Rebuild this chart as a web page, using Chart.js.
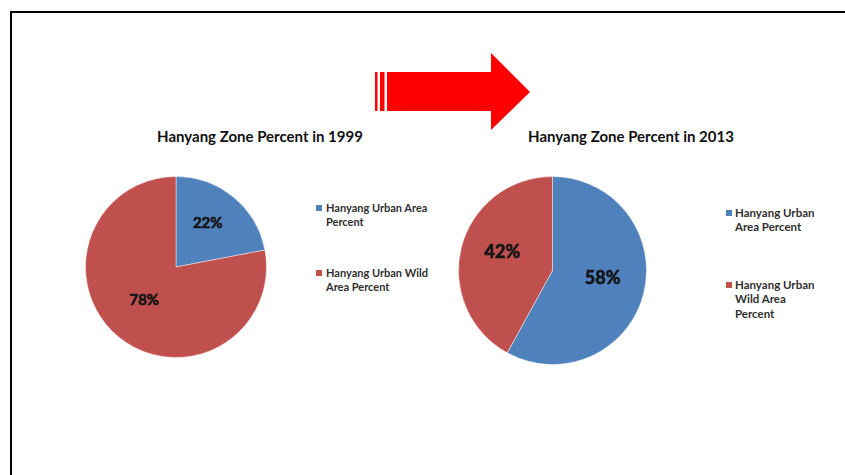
<!DOCTYPE html>
<html><head><meta charset="utf-8">
<script src="https://cdn.jsdelivr.net/npm/chart.js@4.4.1/dist/chart.umd.min.js"></script>
<style>
html,body{margin:0;padding:0;background:#fff;width:845px;height:475px;overflow:hidden;position:relative;}
#frame{position:absolute;left:10px;top:11px;width:850px;height:480px;border-left:2px solid #000;border-top:2px solid #000;box-sizing:border-box;}
.title{position:absolute;font-family:Lato,sans-serif;font-weight:bold;font-size:15px;color:#111;white-space:nowrap;transform:translate(-50%,-50%);}
.cv{position:absolute;}
.leg{position:absolute;font-family:Lato,sans-serif;font-weight:bold;color:#303030;white-space:nowrap;}
.leg .item{position:relative;}
.leg .sw{position:absolute;width:6px;height:6px;}
svg{position:absolute;left:0;top:0;}
</style></head>
<body>
<div id="frame"></div>
<svg width="845" height="475">
  <rect x="375" y="72" width="2.5" height="39" fill="#f00"/>
  <rect x="380" y="72" width="4.5" height="39" fill="#f00"/>
  <polygon points="387,72 491,72 491,53 530,92 491,130 491,111 387,111" fill="#f00"/>
</svg>
<div class="title" id="t1" style="left:260px;top:136px"></div>
<div class="title" id="t2" style="left:631px;top:136px"></div>
<div class="cv" style="left:85px;top:176px;width:182px;height:182px"><canvas id="c1"></canvas></div>
<div class="cv" style="left:458px;top:176px;width:189px;height:189px"><canvas id="c2"></canvas></div>
<div class="leg" id="l1" style="left:326px;top:201px;font-size:11px;line-height:13.5px"></div>
<div class="leg" id="l2" style="left:735px;top:205.75px;font-size:11.5px;line-height:14.5px"></div>
<script>
const categories = ["Hanyang Urban Area Percent", "Hanyang Urban Wild Area Percent"];
const titles = ["Hanyang Zone Percent in 1999", "Hanyang Zone Percent in 2013"];
const values1999 = [22, 78];
const values2013 = [58, 42];
const colors = ["#4F81BD", "#C0504D"];
// how each legend wraps its category names (words per line)
const legendWrap1999 = [[3, 1], [3, 2]];
const legendWrap2013 = [[2, 2], [2, 2, 1]];

const pctLabels = {
  id: 'pctLabels',
  afterDatasetsDraw(chart, args, opts) {
    const ctx = chart.ctx;
    const meta = chart.getDatasetMeta(0);
    ctx.save();
    ctx.font = 'bold ' + opts.size + 'px Lato, sans-serif';
    ctx.fillStyle = '#161616';
    ctx.strokeStyle = '#161616';
    ctx.lineWidth = 0.7;
    ctx.lineJoin = 'round';
    ctx.textAlign = 'center';
    ctx.textBaseline = 'middle';
    meta.data.forEach((arc, i) => {
      const p = arc.getProps(['x', 'y', 'startAngle', 'endAngle', 'outerRadius'], true);
      const mid = (p.startAngle + p.endAngle) / 2;
      const r = p.outerRadius * opts.f;
      const t = chart.data.datasets[0].data[i] + '%';
      const tx = p.x + Math.cos(mid) * r, ty = p.y + Math.sin(mid) * r - opts.lift;
      ctx.fillText(t, tx, ty);
      ctx.strokeText(t, tx, ty);
    });
    ctx.restore();
  }
};

function makePie(id, values, size) {
  return new Chart(document.getElementById(id), {
    type: 'pie',
    data: { labels: categories, datasets: [{ data: values, backgroundColor: colors, borderColor: 'rgba(255,255,255,0.45)', borderWidth: 1 }] },
    options: {
      responsive: true, maintainAspectRatio: false, animation: false,
      layout: { padding: 0 },
      plugins: { legend: { display: false }, tooltip: { enabled: false }, title: { display: false }, pctLabels: { size: size, f: 0.55, lift: 5 } }
    },
    plugins: [pctLabels]
  });
}

function makeLegend(id, wrap, gap, swLeft, swTop) {
  const el = document.getElementById(id);
  categories.forEach((c, i) => {
    const it = document.createElement('div');
    it.className = 'item';
    if (i > 0) it.style.marginTop = gap + 'px';
    const sw = document.createElement('span');
    sw.className = 'sw';
    sw.style.background = colors[i];
    sw.style.left = swLeft + 'px';
    sw.style.top = swTop + 'px';
    it.appendChild(sw);
    const words = c.split(' ');
    let k = 0;
    wrap[i].forEach(n => {
      const line = document.createElement('div');
      line.textContent = words.slice(k, k + n).join(' ');
      k += n;
      it.appendChild(line);
    });
    el.appendChild(it);
  });
}

document.getElementById('t1').textContent = titles[0];
document.getElementById('t2').textContent = titles[1];
makeLegend('l1', legendWrap1999, 38, -10, 3.5);
makeLegend('l2', legendWrap2013, 43, -9, 4.25);

function build() {
  makePie('c1', values1999, 15);
  makePie('c2', values2013, 18);
}
Promise.all([document.fonts.load('bold 15px Lato'), document.fonts.load('bold 18px Lato')])
  .then(build, build);
</script>
</body></html>
